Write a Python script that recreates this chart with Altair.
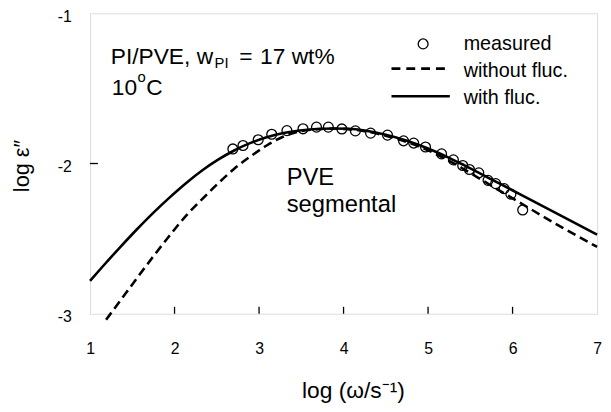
import altair as alt
import pandas as pd

# ---- data ----
SOLID_X = [1.0, 1.16, 1.355, 1.55, 1.745, 1.94, 2.135, 2.33, 2.52, 2.70, 2.90, 3.09, 3.29, 3.48,
           3.68, 3.87, 4.05, 4.25, 4.50, 4.75, 5.00, 5.25, 5.43, 5.80, 6.21, 6.60, 7.0]
SOLID_Y = [-2.781, -2.679, -2.558, -2.441, -2.330, -2.227, -2.131, -2.045, -1.973, -1.915, -1.863,
           -1.825, -1.797, -1.780, -1.770, -1.767, -1.769, -1.780, -1.808, -1.848, -1.900, -1.962,
           -2.012, -2.120, -2.240, -2.355, -2.474]

DASH_X = [1.19, 1.355, 1.55, 1.745, 1.94, 2.135, 2.33, 2.52, 2.70, 2.90, 3.09, 3.29, 3.45, 3.68,
          3.87, 4.05, 4.25, 4.50, 4.75, 5.00, 5.25, 5.43, 5.80, 6.21, 6.60, 7.0]
DASH_Y = [-3.040, -2.915, -2.767, -2.621, -2.481, -2.348, -2.235, -2.130, -2.038, -1.952, -1.880,
          -1.820, -1.790, -1.772, -1.768, -1.771, -1.785, -1.815, -1.857, -1.912, -1.982, -2.040,
          -2.165, -2.302, -2.430, -2.555]

MEAS_X = [2.69, 2.81, 2.99, 3.15, 3.33, 3.52, 3.68, 3.82, 3.98, 4.14, 4.32, 4.52, 4.71, 4.83,
          4.97, 5.16, 5.30, 5.41, 5.49, 5.60, 5.71, 5.80, 5.90, 5.98, 6.12]
MEAS_Y = [-1.903, -1.880, -1.842, -1.805, -1.781, -1.769, -1.758, -1.758, -1.770, -1.783, -1.798,
          -1.811, -1.849, -1.864, -1.890, -1.936, -1.976, -2.013, -2.040, -2.062, -2.112, -2.134,
          -2.167, -2.204, -2.309]

X_LABELS = [1, 2, 3, 4, 5, 6, 7]
Y_LABELS = [-3, -2, -1]
X_INNER_TICKS = [2, 3, 4, 5, 6]
Y_INNER_TICKS = [-2]

FONT = "Liberation Sans"
W, H = 513, 304

solid_df = pd.DataFrame({"x": SOLID_X, "y": SOLID_Y})
dash_df = pd.DataFrame({"x": DASH_X, "y": DASH_Y})
meas_df = pd.DataFrame({"x": MEAS_X, "y": MEAS_Y})
dummy = pd.DataFrame({"k": [0]})

xscale = alt.Scale(domain=[1, 7], nice=False, zero=False)
yscale = alt.Scale(domain=[-3, -1], nice=False, zero=False)

xaxis = alt.Axis(values=X_LABELS, labelExpr="datum.value + ''", grid=False, ticks=False,
                 domain=False, labelFontSize=16, labelPadding=27, labelFlush=False,
                 labelOverlap=False, labelColor="black", labelFont=FONT,
                 title="log (ω/s⁻¹)", titleFont=FONT, titleFontSize=23,
                 titleFontWeight="normal", titleColor="black", titleX=266, titleY=85,
                 titleAlign="center", titleBaseline="alphabetic")
yaxis = alt.Axis(values=Y_LABELS, labelExpr="datum.value + ''", grid=False, ticks=False,
                 domain=False, labelFontSize=16, labelPadding=19, labelFlush=False,
                 labelOverlap=False, labelColor="black", labelFont=FONT, labelOffset=3,
                 title="log ε″", titleFont=FONT, titleFontSize=22, titleFontWeight="normal",
                 titleColor="black", titleAngle=270, titleX=-62, titleY=154,
                 titleAlign="center", titleBaseline="alphabetic")

solid = alt.Chart(solid_df).mark_line(color="black", strokeWidth=2.6, interpolate="monotone").encode(
    x=alt.X("x:Q", scale=xscale, axis=xaxis),
    y=alt.Y("y:Q", scale=yscale, axis=yaxis),
)
dashed = alt.Chart(dash_df).mark_line(color="black", strokeWidth=2.6, strokeDash=[9, 5],
                                      interpolate="monotone").encode(
    x=alt.X("x:Q", scale=xscale), y=alt.Y("y:Q", scale=yscale)
)
meas = alt.Chart(meas_df).mark_point(shape="circle", filled=False, size=100, color="black",
                                     strokeWidth=1.3, opacity=1).encode(
    x=alt.X("x:Q", scale=xscale), y=alt.Y("y:Q", scale=yscale)
)

xt = alt.Chart(pd.DataFrame({"v": X_INNER_TICKS})).mark_rule(color="black", strokeWidth=1.3).encode(
    x=alt.X("v:Q", scale=xscale), y=alt.value(H), y2=alt.value(H - 7)
)
yt = alt.Chart(pd.DataFrame({"v": Y_INNER_TICKS})).mark_rule(color="black", strokeWidth=1.3).encode(
    y=alt.Y("v:Q", scale=yscale), x=alt.value(0), x2=alt.value(8)
)


def txt(s, px, py, size=24, align="left", baseline="alphabetic"):
    return alt.Chart(dummy).mark_text(text=s, font=FONT, fontSize=size, align=align,
                                      baseline=baseline, color="black").encode(
        x=alt.value(px), y=alt.value(py))


# legend
leg_circle = alt.Chart(dummy).mark_point(shape="circle", filled=False, size=100, color="black",
                                         strokeWidth=1.3, opacity=1).encode(
    x=alt.value(337), y=alt.value(31))
leg_dash = alt.Chart(dummy).mark_rule(color="black", strokeWidth=2.6, strokeDash=[9, 6]).encode(
    x=alt.value(305), x2=alt.value(364), y=alt.value(56))
leg_solid = alt.Chart(dummy).mark_rule(color="black", strokeWidth=2.6).encode(
    x=alt.value(305), x2=alt.value(364), y=alt.value(84))

texts = [
    txt("measured", 378, 31, 20, baseline="middle"),
    txt("without fluc.", 378, 58, 20, baseline="middle"),
    txt("with fluc.", 378, 86, 20, baseline="middle"),
    txt("PI/PVE, w", 21, 51, 23),
    txt("PI", 126, 55, 15),
    txt("=", 151, 51, 23),
    txt("17", 172, 51, 23),
    txt("wt%", 204, 51, 23),
    txt("10", 22, 83, 23),
    txt("o", 48, 70, 15),
    txt("C", 57, 83, 23),
    txt("PVE", 199, 174),
    txt("segmental", 199, 201),
]

chart = alt.layer(solid, dashed, meas, xt, yt, leg_circle, leg_dash, leg_solid, *texts).properties(
    width=W, height=H,
    autosize=alt.AutoSizeParams(type="none"),
    padding={"left": 83, "top": 3, "right": 6, "bottom": 91},
).configure_view(stroke="black", strokeWidth=1.5).configure(background="white")

chart.save("out.html", embed_options={"renderer": "svg", "actions": False})
